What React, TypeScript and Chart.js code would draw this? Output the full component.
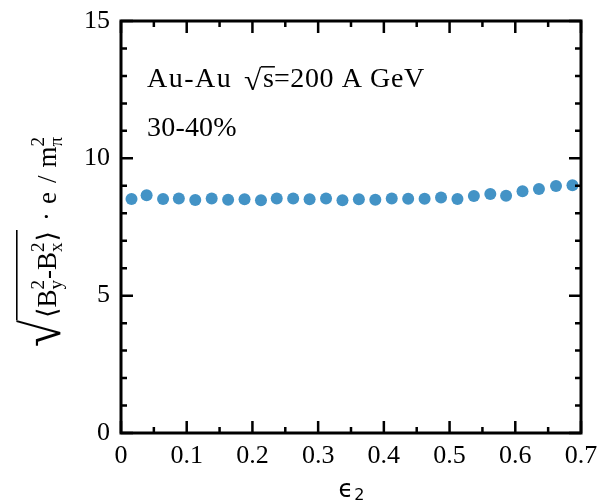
import React, { useEffect, useRef } from "react";
import { Chart, registerables } from "chart.js";

Chart.register(...registerables);

// ---- data ----
const epsilon2: number[] = [
  0.016, 0.039, 0.064, 0.088, 0.113, 0.138, 0.163, 0.188, 0.213, 0.237,
  0.262, 0.287, 0.312, 0.337, 0.362, 0.387, 0.412, 0.437, 0.462, 0.487,
  0.512, 0.537, 0.562, 0.586, 0.611, 0.636, 0.662, 0.687,
];
const fieldStrength: number[] = [
  8.52, 8.66, 8.52, 8.54, 8.48, 8.54, 8.49, 8.51, 8.47, 8.54,
  8.54, 8.51, 8.54, 8.47, 8.51, 8.49, 8.54, 8.53, 8.53, 8.57,
  8.52, 8.63, 8.7, 8.64, 8.8, 8.88, 8.99, 9.02,
];
const xMajorTicks: number[] = [0, 0.1, 0.2, 0.3, 0.4, 0.5, 0.6, 0.7];
const yMajorTicks: number[] = [0, 5, 10, 15];
const annotationLine1 = ["Au-Au", "s", "=200 A GeV"];
const annotationLine2 = "30-40%";

const SERIF = '"Liberation Serif", "DejaVu Serif", serif';
const POINT_COLOR = "#4393c6";

const isXMajor = (v: number) =>
  xMajorTicks.some((m) => Math.abs(m - v) < 1e-6);
const isYMajor = (v: number) =>
  yMajorTicks.some((m) => Math.abs(m - v) < 1e-6);

// draws a radical sign fitted into a box; returns right edge
function drawRadical(
  ctx: CanvasRenderingContext2D,
  x: number,
  top: number,
  bottom: number,
  width: number,
  fontPx: number
): number {
  ctx.save();
  ctx.font = `${fontPx}px ${SERIF}`;
  const m = ctx.measureText("\u221A");
  const asc = m.actualBoundingBoxAscent;
  const desc = m.actualBoundingBoxDescent;
  const gl = m.actualBoundingBoxLeft;
  const gw = m.actualBoundingBoxRight + gl;
  const sy = (bottom - top) / (asc + desc);
  const sx = width / gw;
  ctx.translate(x + gl * sx, top + asc * sy);
  ctx.scale(sx, sy);
  ctx.textBaseline = "alphabetic";
  ctx.textAlign = "left";
  ctx.fillText("\u221A", 0, 0);
  ctx.restore();
  return x + width;
}

const decorPlugin = {
  id: "decor",
  afterDatasetsDraw(chart: any) {
    const ctx: CanvasRenderingContext2D = chart.ctx;
    const { left, right, top, bottom } = chart.chartArea;
    const xs = chart.scales.x;
    const ys = chart.scales.y;
    ctx.save();
    ctx.strokeStyle = "#000";
    ctx.fillStyle = "#000";
    // ticks
    ctx.lineWidth = 2.5;
    ctx.beginPath();
    for (const t of xs.ticks) {
      const px = xs.getPixelForValue(t.value);
      const len = isXMajor(t.value) ? 12 : 6;
      ctx.moveTo(px, bottom);
      ctx.lineTo(px, bottom - len);
      ctx.moveTo(px, top);
      ctx.lineTo(px, top + len);
    }
    for (const t of ys.ticks) {
      const py = ys.getPixelForValue(t.value);
      const len = isYMajor(t.value) ? 12 : 6;
      ctx.moveTo(left, py);
      ctx.lineTo(left + len, py);
      ctx.moveTo(right, py);
      ctx.lineTo(right - len, py);
    }
    ctx.stroke();
    // frame
    ctx.lineWidth = 3;
    ctx.strokeRect(left, top, right - left, bottom - top);

    // annotation
    ctx.textBaseline = "alphabetic";
    ctx.textAlign = "left";
    const aFont = `28px ${SERIF}`;
    ctx.font = aFont;
    (ctx as any).letterSpacing = "1.5px";
    const ay = 87;
    ctx.fillText(annotationLine1[0], 147, ay);
    (ctx as any).letterSpacing = "0px";
    const radEnd = drawRadical(ctx, 244, 66, 91, 18, 28);
    ctx.font = aFont;
    ctx.fillText(annotationLine1[1], radEnd + 1, ay);
    const sw = ctx.measureText(annotationLine1[1]).width;
    ctx.lineWidth = 1.5;
    ctx.beginPath();
    ctx.moveTo(radEnd - 1, 66.8);
    ctx.lineTo(radEnd + sw + 2, 66.8);
    ctx.stroke();
    (ctx as any).letterSpacing = "0.6px";
    ctx.fillText(annotationLine1[2], radEnd + sw + 1, ay);
    (ctx as any).letterSpacing = "0.2px";
    ctx.fillText(annotationLine2, 147, 136);
    (ctx as any).letterSpacing = "0px";

    // x-axis title: epsilon_2
    ctx.font = `24px "DejaVu Sans", sans-serif`;
    const ew = ctx.measureText("\u03F5").width;
    ctx.font = `16px "DejaVu Sans", sans-serif`;
    const tw = ctx.measureText("2").width;
    const cx = (left + right) / 2;
    const ex = cx - (ew + tw) / 2;
    ctx.font = `24px "DejaVu Sans", sans-serif`;
    ctx.fillText("\u03F5", ex, 497);
    ctx.font = `16px "DejaVu Sans", sans-serif`;
    ctx.fillText("2", ex + ew + 1, 500);

    // y-axis title (rotated, reading bottom-to-top)
    const mainF = `27px ${SERIF}`;
    const scrF = `19px ${SERIF}`;
    const w = (s: string, f: string) => {
      ctx.font = f;
      return ctx.measureText(s).width;
    };
    const txt = (s: string, f: string, x: number, y: number) => {
      ctx.font = f;
      ctx.fillText(s, x, y);
      return x + ctx.measureText(s).width;
    };
    const stack = (sup: string, sub: string, x: number) => {
      ctx.font = scrF;
      ctx.fillText(sup, x, -12);
      ctx.fillText(sub, x, 6);
      return x + Math.max(w(sup, scrF), w(sub, scrF)) + 1;
    };
    ctx.save();
    ctx.translate(56, 347);
    ctx.rotate(-Math.PI / 2);
    const radTop = -40;
    let px = drawRadical(ctx, 0, radTop, 6, 28, 30);
    px += 1;
    px = txt("\u27E8", mainF, px, 0);
    px = txt("B", mainF, px, 0);
    px = stack("2", "y", px);
    px = txt("-B", mainF, px, 0);
    px = stack("2", "x", px);
    px = txt("\u27E9", mainF, px, 0);
    const overEnd = px;
    ctx.lineWidth = 1.6;
    ctx.beginPath();
    ctx.moveTo(27, radTop + 0.8);
    ctx.lineTo(overEnd + 1, radTop + 0.8);
    ctx.stroke();
    px += 10;
    px = txt("\u00B7", mainF, px, 0);
    px += 8;
    px = txt("e", mainF, px, 0);
    px += 9;
    px = txt("/", mainF, px, 0);
    px += 8;
    px = txt("m", mainF, px, 0);
    px = stack("2", "\u03C0", px);
    ctx.restore();

    ctx.restore();
  },
};

export default function App() {
  const ref = useRef<HTMLCanvasElement | null>(null);
  useEffect(() => {
    if (!ref.current) return;
    const chart = new Chart(ref.current, {
      type: "scatter",
      data: {
        datasets: [
          {
            data: epsilon2.map((x, i) => ({ x, y: fieldStrength[i] })),
            backgroundColor: POINT_COLOR,
            borderWidth: 0,
            pointRadius: 6,
            pointHoverRadius: 6,
          },
        ],
      },
      options: {
        responsive: false,
        animation: false,
        events: [],
        layout: { padding: { top: 21, right: 26, left: 0, bottom: 0 } },
        plugins: { legend: { display: false }, tooltip: { enabled: false } },
        scales: {
          x: {
            type: "linear",
            min: 0,
            max: 0.7,
            grid: { display: false, drawTicks: false },
            border: { display: false },
            ticks: {
              stepSize: 0.05,
              autoSkip: false,
              maxRotation: 0,
              padding: 8,
              color: "#000",
              font: { family: SERIF, size: 26 },
              callback: (v: any) => {
                const n = Number(v);
                return isXMajor(n) ? String(Math.round(n * 10) / 10) : "";
              },
            },
            afterFit: (s: any) => {
              s.height = 69;
              s.paddingLeft = 0;
              s.paddingRight = 0;
            },
          },
          y: {
            type: "linear",
            min: 0,
            max: 15,
            grid: { display: false, drawTicks: false },
            border: { display: false },
            ticks: {
              stepSize: 1,
              autoSkip: false,
              padding: 11,
              color: "#000",
              font: { family: SERIF, size: 26 },
              callback: (v: any) => {
                const n = Number(v);
                return isYMajor(n) ? String(n) : "";
              },
            },
            afterFit: (s: any) => {
              s.width = 121;
              s.paddingTop = 0;
              s.paddingBottom = 0;
            },
          },
        },
      },
      plugins: [decorPlugin],
    });
    return () => chart.destroy();
  }, []);
  return (
    <div style={{ position: "absolute", left: 0, top: 0, width: 607, height: 502, background: "#fff" }}>
      <canvas ref={ref} width={607} height={502} style={{ display: "block" }} />
    </div>
  );
}
